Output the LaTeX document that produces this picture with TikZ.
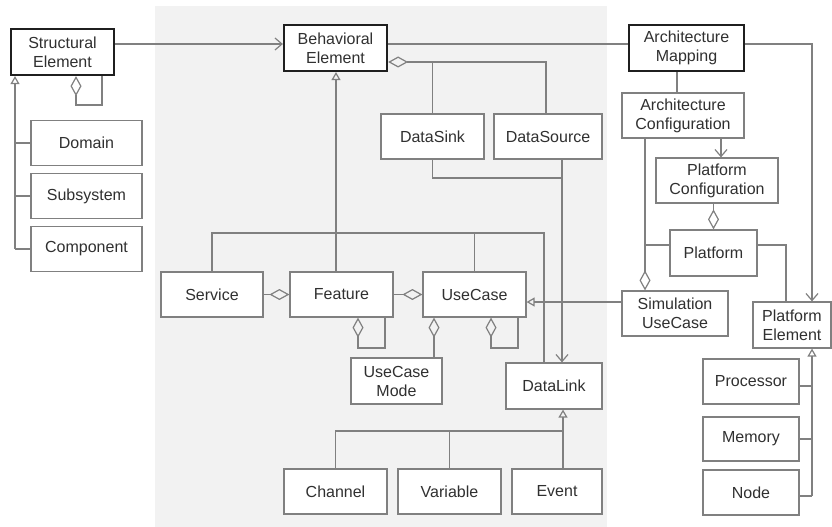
\documentclass[tikz,border=0pt]{standalone}
\usepackage{fontspec}
\setmainfont{Liberation Sans}
\usetikzlibrary{arrows.meta}
\definecolor{bgray}{HTML}{F2F2F2}
\definecolor{lgray}{HTML}{808080}
\definecolor{tgray}{HTML}{303030}
\begin{document}
\begin{tikzpicture}[x=1pt,y=-1pt,
  box/.style={draw=lgray, line width=1.2pt, fill=white, text=tgray, align=center, inner sep=0pt,
    font=\fontsize{16}{19}\selectfont},
  mainbox/.style={box, draw=black!88, line width=2.2pt},
  sz/.style 2 args={minimum width=#1, minimum height=#2},
  conn/.style={draw=lgray, line width=1.2pt},
  aggs/.style={conn, {Diamond[open, length=20pt, width=11pt]}-},
  agge/.style={conn, -{Diamond[open, length=20pt, width=11pt]}},
  gens/.style={conn, {Triangle[open, length=8pt, width=9pt]}-},
  gene/.style={conn, -{Triangle[open, length=8pt, width=9pt]}},
  nav/.style={conn, -{Straight Barb[length=7pt, width=12pt]}}
]
\useasboundingbox (0,0) rectangle (832,527);
\fill[bgray] (155,6) rectangle (607,527);

% nodes
\node[mainbox, sz={103}{46}] (SE) at (62.5,52) {Structural\\Element};
\node[mainbox, sz={103}{46}] (BE) at (335.5,48) {Behavioral\\Element};
\node[mainbox, sz={115}{46}] (AM) at (686.5,48) {Architecture\\Mapping};
\node[box, sz={111}{45}] (Dom) at (86.5,143) {Domain};
\node[box, sz={111}{45}] (Sub) at (86.5,196) {Subsystem};
\node[box, sz={111}{45}] (Comp) at (86.5,249) {Component};
\node[box, sz={103}{45}] (DSink) at (432.5,136.5) {DataSink};
\node[box, sz={108}{45}] (DSrc) at (548,136.5) {DataSource};
\node[box, sz={102}{45}] (Serv) at (212,294.5) {Service};
\node[box, sz={103}{45}] (Feat) at (341.5,294.5) {Feature};
\node[box, sz={103}{45}] (UC) at (474.5,294.5) {UseCase};
\node[box, sz={91}{46}] (UCM) at (396.5,381) {UseCase\\Mode};
\node[box, sz={96}{46}] (DL) at (554,386) {DataLink};
\node[box, sz={103}{45}] (Chan) at (335.5,491.5) {Channel};
\node[box, sz={103}{45}] (Var) at (449.5,491.5) {Variable};
\node[box, sz={90}{45}] (Ev) at (557,491.5) {Event};
\node[box, sz={122}{45}] (AC) at (683,115.5) {Architecture\\Configuration};
\node[box, sz={122}{45}] (PC) at (717,180.5) {Platform\\Configuration};
\node[box, sz={87}{46}] (Plat) at (713.5,253) {Platform};
\node[box, sz={106}{45}] (SUC) at (675,313.5) {Simulation\\UseCase};
\node[box, sz={78}{46}] (PE) at (792,325) {Platform\\Element};
\node[box, sz={96}{45}] (Proc) at (751,381.5) {Processor};
\node[box, sz={96}{44}] (Mem) at (751,439) {Memory};
\node[box, sz={96}{45}] (Nd) at (751,492.5) {Node};

% Structural element
\draw[nav] (SE.east |- 0,44) -- (BE.west |- 0,44);
\draw[aggs] (SE.south -| 76,0) -- (76,105) -| (SE.south -| 102,0);
\draw[gens] (SE.south -| 15,0) -- (15,249);
\draw[conn] (15,143) -- (Dom.west);
\draw[conn] (15,196) -- (Sub.west);
\draw[conn] (15,249) -- (Comp.west);

% Behavioral element
\draw[conn] (BE.east |- 0,44) -- (AM.west |- 0,44);
\draw[aggs] (BE.east |- 0,62) -- (546,62) -- (DSrc.north -| 546,0);
\draw[conn] (DSink.north |- 0,62) -- (DSink.north);
\draw[conn] (DSink.south) -- (DSink.south |- 0,178) -- (562,178);
\draw[nav] (DSrc.south -| 562,0) -- (DL.north -| 562,0);
\draw[gens] (BE.south -| 336,0) -- (336,233);
\draw[conn] (Serv.north) -- (Serv.north |- 0,233) -- (544,233) -- (DL.north -| 544,0);
\draw[conn] (Feat.north -| 336,0) -- (336,233);
\draw[conn] (UC.north) -- (UC.north |- 0,233);
\draw[aggs] (Feat.west) -- (Serv.east);
\draw[aggs] (UC.west) -- (Feat.east);
\draw[aggs] (Feat.south -| 358,0) -- (358,348) -| (Feat.south -| 385,0);
\draw[aggs] (UC.south -| 491,0) -- (491,348) -| (UC.south -| 518,0);
\draw[aggs] (UC.south -| 434,0) -- (UCM.north -| 434,0);
\draw[gene] (SUC.west |- 0,302) -- (UC.east |- 0,302);

% DataLink
\draw[gens] (DL.south -| 563,0) -- (563,431);
\draw[conn] (Chan.north) -- (Chan.north |- 0,431) -- (563,431) -- (Ev.north -| 563,0);
\draw[conn] (Var.north) -- (Var.north |- 0,431);

% Architecture
\draw[nav] (AM.east |- 0,44) -| (PE.north -| 812,0);
\draw[conn] (AM.south -| 677,0) -- (AC.north -| 677,0);
\draw[nav] (AC.south -| 721,0) -- (PC.north -| 721,0);
\draw[agge] (PC.south -| 713.5,0) -- (Plat.north);
\draw[agge] (AC.south -| 645,0) -- (SUC.north -| 645,0);
\draw[conn] (Plat.west |- 0,245) -- (645,245);
\draw[conn] (Plat.east |- 0,245) -| (PE.north -| 786,0);
\draw[gens] (PE.south -| 812,0) -- (812,496);
\draw[conn] (Proc.east |- 0,386) -- (812,386);
\draw[conn] (Mem.east) -- (Mem.east -| 812,0);
\draw[conn] (Nd.east |- 0,496) -- (812,496);
\end{tikzpicture}
\end{document}
